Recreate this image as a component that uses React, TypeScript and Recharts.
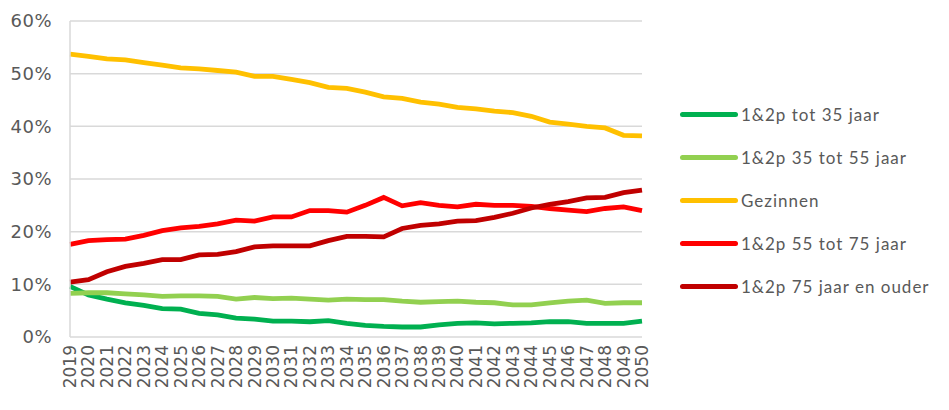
import { LineChart, Line, XAxis, YAxis, CartesianGrid } from 'recharts';

const years = [
  '2019', '2020', '2021', '2022', '2023', '2024', '2025', '2026', '2027', '2028',
  '2029', '2030', '2031', '2032', '2033', '2034', '2035', '2036', '2037', '2038',
  '2039', '2040', '2041', '2042', '2043', '2044', '2045', '2046', '2047', '2048',
  '2049', '2050',
];

const tot35 = [
  9.6, 8.0, 7.2, 6.5, 6.0, 5.4, 5.3, 4.5, 4.2, 3.6,
  3.4, 3.0, 3.0, 2.9, 3.1, 2.6, 2.2, 2.0, 1.9, 1.9,
  2.3, 2.6, 2.7, 2.5, 2.6, 2.7, 2.9, 2.9, 2.6, 2.6,
  2.6, 3.0,
];

const tot55 = [
  8.3, 8.4, 8.4, 8.2, 8.0, 7.7, 7.8, 7.8, 7.7, 7.2,
  7.5, 7.3, 7.4, 7.2, 7.0, 7.2, 7.1, 7.1, 6.8, 6.6,
  6.7, 6.8, 6.6, 6.5, 6.1, 6.1, 6.5, 6.8, 7.0, 6.4,
  6.5, 6.5,
];

const gezinnen = [
  53.7, 53.3, 52.8, 52.6, 52.1, 51.6, 51.1, 50.9, 50.6, 50.3,
  49.5, 49.5, 48.9, 48.3, 47.4, 47.2, 46.5, 45.6, 45.3, 44.6,
  44.2, 43.6, 43.3, 42.9, 42.6, 41.9, 40.8, 40.4, 40.0, 39.7,
  38.3, 38.2,
];

const tot75 = [
  17.6, 18.3, 18.5, 18.6, 19.3, 20.2, 20.7, 21.0, 21.5, 22.2,
  22.0, 22.8, 22.8, 24.0, 24.0, 23.7, 25.0, 26.5, 24.9, 25.5,
  25.0, 24.7, 25.2, 25.0, 25.0, 24.8, 24.4, 24.1, 23.8, 24.4,
  24.7, 24.0,
];

const ouder75 = [
  10.4, 10.9, 12.4, 13.4, 14.0, 14.7, 14.7, 15.6, 15.7, 16.2,
  17.1, 17.3, 17.3, 17.3, 18.3, 19.1, 19.1, 19.0, 20.6, 21.2,
  21.5, 22.0, 22.1, 22.7, 23.5, 24.5, 25.2, 25.7, 26.4, 26.5,
  27.4, 27.9,
];

const yTicks = [0, 10, 20, 30, 40, 50, 60];

const series = [
  { key: 'tot35', name: '1&2p tot 35 jaar', color: '#00B050', values: tot35 },
  { key: 'tot55', name: '1&2p 35 tot 55 jaar', color: '#92D050', values: tot55 },
  { key: 'gezinnen', name: 'Gezinnen', color: '#FFC000', values: gezinnen },
  { key: 'tot75', name: '1&2p 55 tot 75 jaar', color: '#FF0000', values: tot75 },
  { key: 'ouder75', name: '1&2p 75 jaar en ouder', color: '#C00000', values: ouder75 },
];

const data = years.map((year, i) => {
  const row: Record<string, string | number> = { year };
  series.forEach(s => { row[s.key] = s.values[i]; });
  return row;
});

const textColor = '#595959';

function YearTick({ x, y, payload }: { x?: number; y?: number; payload?: { value: string } }) {
  return (
    <text
      transform={`translate(${(x ?? 0) + 6},${(y ?? 0)}) rotate(-90)`}
      textAnchor="end"
      fill={textColor}
      fontSize={17}
      fontFamily="'DejaVu Sans', sans-serif"
    >
      {payload?.value}
    </text>
  );
}

export default function App() {
  return (
    <div style={{ position: 'absolute', left: 0, top: 0, width: 949, height: 410, background: '#fff' }}>
      <LineChart width={949} height={410} data={data} margin={{ top: 21, right: 307, left: 8, bottom: 0 }}>
        <CartesianGrid vertical={false} stroke="#d9d9d9" strokeWidth={1.5} />
        <XAxis
          dataKey="year"
          interval={0}
          height={73}
          axisLine={false}
          tickLine={false}
          tick={<YearTick />}
        />
        <YAxis
          domain={[0, 60]}
          ticks={yTicks}
          width={62}
          tickFormatter={v => `${v}%`}
          axisLine={{ stroke: '#d9d9d9', strokeWidth: 1.5 }}
          tickLine={false}
          tickMargin={12}
          tick={{ fill: textColor, fontSize: 18, fontFamily: "'DejaVu Sans', sans-serif", letterSpacing: 0.5 }}
        />
        <YAxis
          yAxisId="border"
          orientation="right"
          domain={[0, 60]}
          width={0}
          tick={false}
          tickLine={false}
          axisLine={{ stroke: '#d9d9d9', strokeWidth: 1.5 }}
        />
        {series.map(s => (
          <Line
            key={s.key}
            type="linear"
            dataKey={s.key}
            name={s.name}
            stroke={s.color}
            strokeWidth={4.8}
            dot={false}
            activeDot={false}
            isAnimationActive={false}
          />
        ))}
      </LineChart>
      <div style={{ position: 'absolute', left: 680, top: 93, fontFamily: "Lato, sans-serif", fontSize: 17, color: textColor, letterSpacing: 1 }}>
        {series.map(s => (
          <div key={s.key} style={{ display: 'flex', alignItems: 'center', height: 43 }}>
            <div style={{ width: 58, height: 5, borderRadius: 3, background: s.color, marginRight: 3 }} />
            <span>{s.name}</span>
          </div>
        ))}
      </div>
    </div>
  );
}
